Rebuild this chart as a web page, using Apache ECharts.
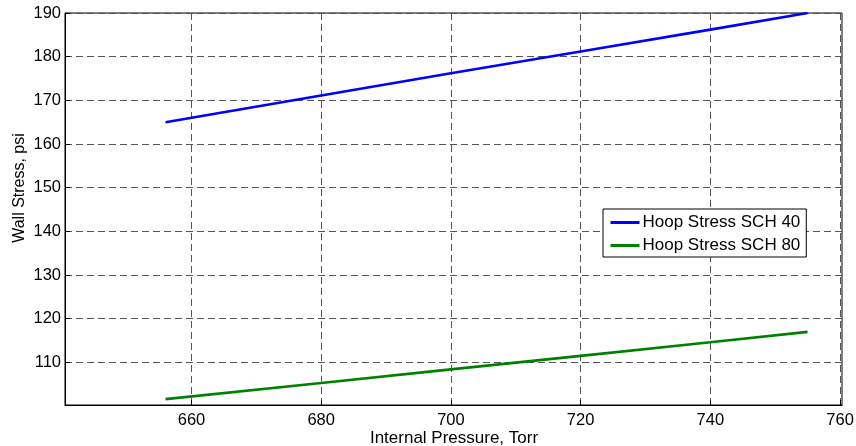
<!DOCTYPE html>
<html>
<head>
<meta charset="utf-8">
<script src="https://cdn.jsdelivr.net/npm/echarts@6/dist/echarts.min.js"></script>
<style>
html,body{margin:0;padding:0;background:#fff;}
#chart{width:856px;height:446px;}
</style>
</head>
<body>
<div id="chart"></div>
<script>
// Data
const pressure = [656, 680, 700, 720, 740, 755];
const sch40 = [165.0, 171.1, 176.2, 181.2, 186.2, 190.0];
const sch80 = [101.6, 105.3, 108.4, 111.5, 114.6, 117.0];
const xTicks = [660, 680, 700, 720, 740, 760];
const yTicks = [110, 120, 130, 140, 150, 160, 170, 180, 190];
const seriesNames = ['Hoop Stress SCH 40', 'Hoop Stress SCH 80'];

const FONT = '"Liberation Sans", Arial, Helvetica, sans-serif';
const chart = echarts.init(document.getElementById('chart'), null, {renderer: 'canvas'});

const gridLine = {show: true, lineStyle: {color: '#555', type: [7, 4], width: 1}};

chart.setOption({
  animation: false,
  backgroundColor: '#fff',
  grid: {left: 65, right: 14, top: 13, bottom: 41, show: true, borderColor: '#000', borderWidth: 1,
         backgroundColor: '#fff', outerBoundsMode: 'none', containLabel: false},
  xAxis: {
    type: 'value', min: 640.5, max: 760.3,
    axisLine: {show: true, lineStyle: {color: '#000', width: 1}},
    axisTick: {show: true, inside: true, length: 5, customValues: xTicks, lineStyle: {color: '#000'}},
    axisLabel: {customValues: xTicks, color: '#000', fontFamily: FONT, fontSize: 16.5, margin: 7, formatter: v => String(v)},
    splitLine: gridLine
  },
  yAxis: {
    type: 'value', min: 100.25, max: 190,
    axisLine: {show: true, lineStyle: {color: '#000', width: 1}},
    axisTick: {show: true, inside: true, length: 5, customValues: yTicks, lineStyle: {color: '#000'}},
    axisLabel: {customValues: yTicks, color: '#000', fontFamily: FONT, fontSize: 16.5, margin: 4, formatter: v => String(v)},
    splitLine: gridLine
  },
  legend: {
    orient: 'vertical', left: 603, top: 209,
    padding: [5, 6, 3, 6],
    itemWidth: 29, itemHeight: 17, itemGap: 6,
    borderColor: '#000', borderWidth: 1, backgroundColor: '#fff',
    itemStyle: {opacity: 0},
    lineStyle: {width: 3},
    textStyle: {color: '#000', fontFamily: FONT, fontSize: 17, padding: [0, 0, 0, -2]},
    data: seriesNames
  },
  graphic: [{
    type: 'text',
    rotation: Math.PI / 2,
    x: 20, y: 188,
    style: {text: 'Wall Stress, psi', fill: '#000', font: '16px ' + FONT, textAlign: 'center', textVerticalAlign: 'middle'}
  }, {
    type: 'text',
    x: 454, y: 438.5,
    style: {text: 'Internal Pressure, Torr', fill: '#000', font: '17px ' + FONT, textAlign: 'center', textVerticalAlign: 'middle'}
  }],
  series: [
    {name: seriesNames[0], type: 'line', data: pressure.map((p, i) => [p, sch40[i]]), symbol: 'none',
     lineStyle: {color: '#0000ff', width: 2.6}, itemStyle: {color: '#0000ff'}},
    {name: seriesNames[1], type: 'line', data: pressure.map((p, i) => [p, sch80[i]]), symbol: 'none',
     lineStyle: {color: '#008000', width: 2.6}, itemStyle: {color: '#008000'}}
  ]
});
</script>
</body>
</html>
